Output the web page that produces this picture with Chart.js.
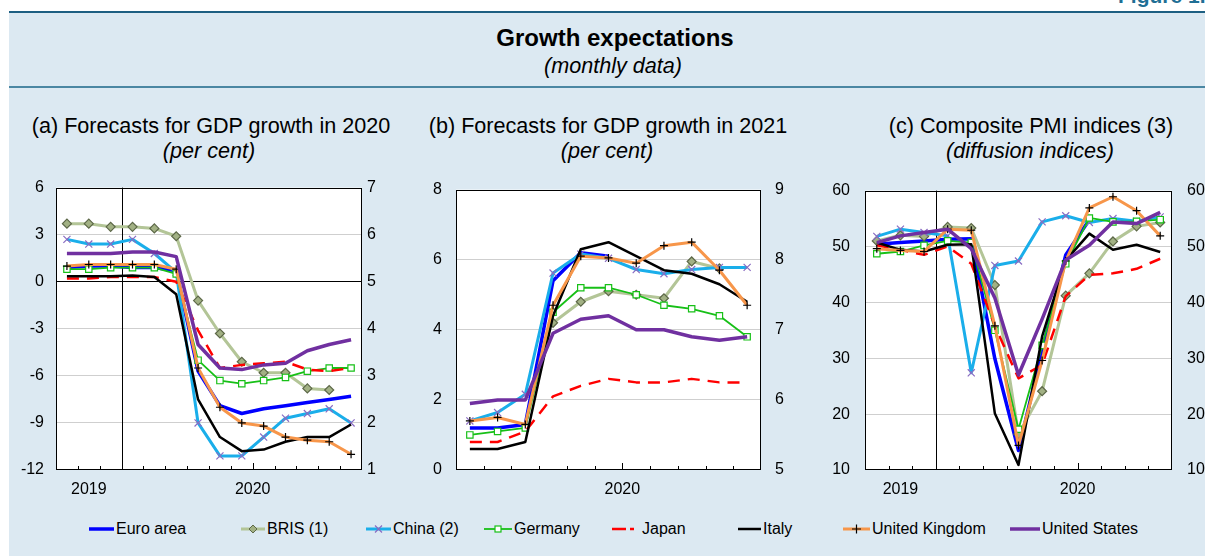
<!DOCTYPE html>
<html>
<head>
<meta charset="utf-8">
<script src="https://cdn.jsdelivr.net/npm/chart.js@4.4.1/dist/chart.umd.min.js"></script>
<style>
  body { margin: 0; width: 1205px; height: 556px; position: relative; overflow: hidden; background: #fff;
         font-family: "Liberation Sans", Arial, Helvetica, sans-serif; color: #000; }
  #bg { position: absolute; left: 9px; top: 13px; right: 0; bottom: 0; background: #dce9f2; }
  #topline { position: absolute; left: 9px; right: 0; top: 11px; height: 2px; background: #1d5f82; }
  #sep { position: absolute; left: 9px; right: 0; top: 86px; height: 2px; background: #4b87a3; }
  .t { position: absolute; white-space: nowrap; transform: translateX(-50%); text-align: center; }
  #fig { position: absolute; left: 1118px; top: -15px; font-size: 21px; line-height: 22px; font-weight: bold; color: #1f6f95; white-space: nowrap; }
  canvas { position: absolute; top: 166px; }
  .leg { position: absolute; top: 520px; font-size: 16px; line-height: 18px; white-space: nowrap; }
  .leg svg { position: absolute; top: 3px; }
</style>
</head>
<body>
<div id="bg"></div>
<div id="topline"></div>
<div id="sep"></div>
<div id="fig">Figure 1.</div>
<div class="t" style="left:615px;top:24px;font-size:24px;line-height:28px;font-weight:bold">Growth expectations</div>
<div class="t" style="left:613px;top:54px;font-size:21.6px;line-height:24px;font-style:italic">(monthly data)</div>
<div class="t" style="left:211px;top:114px;font-size:21.6px;line-height:24px">(a) Forecasts for GDP growth in 2020</div>
<div class="t" style="left:209px;top:139px;font-size:21.6px;line-height:24px;font-style:italic">(per cent)</div>
<div class="t" style="left:608px;top:114px;font-size:21.6px;line-height:24px">(b) Forecasts for GDP growth in 2021</div>
<div class="t" style="left:607px;top:139px;font-size:21.6px;line-height:24px;font-style:italic">(per cent)</div>
<div class="t" style="left:1031px;top:114px;font-size:21.6px;line-height:24px">(c) Composite PMI indices (3)</div>
<div class="t" style="left:1030px;top:139px;font-size:21.6px;line-height:24px;font-style:italic">(diffusion indices)</div>

<canvas id="chartA" width="395" height="334" style="left:10px"></canvas>
<canvas id="chartB" width="395" height="334" style="left:405px"></canvas>
<canvas id="chartC" width="405" height="334" style="left:800px"></canvas>
<div id="legend"></div>

<script>
// ---- data ----
var seriesNames = ["Euro area", "BRIS (1)", "China (2)", "Germany", "Japan", "Italy", "United Kingdom", "United States"];

// (a) forecasts for GDP growth in 2020, Oct 2019 - Nov 2020 (China on right axis)
var monthsA = ["2019-10", "2019-11", "2019-12", "2020-01", "2020-02", "2020-03", "2020-04",
               "2020-05", "2020-06", "2020-07", "2020-08", "2020-09", "2020-10", "2020-11"];
var euroA    = [0.9, 1.0, 1.0, 0.9, 0.9, 0.7, -5.7, -7.9, -8.4, -8.1, -7.9, -7.7, -7.5, -7.3];
var brisA    = [3.7, 3.7, 3.5, 3.5, 3.4, 2.9, -1.2, -3.3, -5.1, -5.8, -5.8, -6.8, -6.9, null];
var chinaA   = [5.9, 5.8, 5.8, 5.9, 5.6, 5.2, 2.0, 1.3, 1.3, 1.7, 2.1, 2.2, 2.3, 2.0];
var germanyA = [0.8, 0.8, 0.9, 0.9, 0.9, 0.5, -5.0, -6.3, -6.5, -6.3, -6.1, -5.7, -5.5, -5.5];
var japanA   = [0.2, 0.2, 0.3, 0.3, 0.3, 0.0, -3.1, -5.5, -5.3, -5.2, -5.1, -5.6, -5.7, -5.5];
var italyA   = [0.35, 0.35, 0.35, 0.4, 0.3, -0.8, -7.5, -9.9, -10.8, -10.7, -10.2, -9.9, -9.9, -9.1];
var ukA      = [1.0, 1.1, 1.1, 1.1, 1.1, 0.8, -5.5, -8.0, -9.0, -9.2, -9.9, -10.1, -10.2, -11.0];
var usA      = [1.8, 1.8, 1.8, 1.9, 1.9, 1.6, -4.0, -5.5, -5.6, -5.3, -5.2, -4.4, -4.0, -3.7];

// (b) forecasts for GDP growth in 2021, Jan - Nov 2020 (China on right axis)
var monthsB = ["2020-01", "2020-02", "2020-03", "2020-04", "2020-05", "2020-06",
               "2020-07", "2020-08", "2020-09", "2020-10", "2020-11"];
var euroB    = [1.2, 1.2, 1.3, 5.4, 6.2, 6.1, null, null, null, null, null];
var brisB    = [null, null, null, 4.2, 4.8, 5.1, 5.0, 4.9, 5.95, 5.75, null];
var chinaB   = [5.7, 5.82, 6.08, 7.81, 8.08, 8.02, 7.86, 7.8, 7.86, 7.89, 7.89];
var germanyB = [1.0, 1.1, 1.2, 4.5, 5.2, 5.2, 5.0, 4.7, 4.6, 4.4, 3.8];
var japanB   = [0.8, 0.8, 1.1, 2.1, 2.4, 2.6, 2.5, 2.5, 2.6, 2.5, 2.5];
var italyB   = [0.6, 0.6, 0.8, 4.4, 6.3, 6.5, 6.1, 5.7, 5.6, 5.3, 4.8];
var ukB      = [1.4, 1.5, 1.3, 4.7, 6.1, 6.05, 5.9, 6.4, 6.5, 5.7, 4.7];
var usB      = [1.9, 2.0, 2.0, 3.9, 4.3, 4.4, 4.0, 4.0, 3.8, 3.7, 3.8];

// (c) composite PMI, Oct 2019 - Oct 2020
var monthsC = ["2019-10", "2019-11", "2019-12", "2020-01", "2020-02", "2020-03", "2020-04",
               "2020-05", "2020-06", "2020-07", "2020-08", "2020-09", "2020-10"];
var euroC    = [50.4, 50.7, 51.0, 51.3, 51.4, 29.9, 13.5, 31.4, 48.5, 54.8, null, null, null];
var brisC    = [51.0, 52.0, 51.8, 53.5, 53.3, 43.1, 16.4, 24.1, 41.2, 45.2, 50.9, 53.6, 54.3];
var chinaC   = [51.8, 53.1, 52.5, 51.9, 27.4, 46.6, 47.4, 54.4, 55.5, 54.3, 55.0, 54.5, 55.3];
var germanyC = [48.7, 49.1, 50.2, 51.0, 50.7, 35.0, 17.3, 32.3, 46.9, 55.1, 54.4, 54.5, 54.8];
var japanC   = [50.2, 49.4, 48.5, 50.0, 46.9, 35.8, 26.4, 28.8, 41.1, 44.9, 45.2, 46.0, 47.8];
var italyC   = [50.7, 49.4, 49.1, 50.3, 50.4, 20.1, 10.9, 33.9, 47.5, 52.3, 49.4, 50.3, 49.0];
var ukC      = [49.6, 49.3, 49.1, 53.1, 52.9, 35.8, 14.4, 29.6, 47.4, 56.9, 58.9, 56.4, 51.9];
var usC      = [50.7, 51.9, 52.5, 53.1, 49.6, 40.8, 27.0, 37.0, 47.6, 50.2, 54.4, 54.1, 56.1];

// ---- styles ----
var styles = {
  "Euro area":      { color: "#0000ff", width: 3.5 },
  "BRIS (1)":       { color: "#b3c597", width: 3, point: "rectRot", radius: 4.5, fill: "#a2b184", border: "#5d6848" },
  "China (2)":      { color: "#1aaeea", width: 3, point: "crossRot", radius: 5, fill: "#8a6cc2", border: "#8a6cc2" },
  "Germany":        { color: "#17c017", width: 1.8, point: "rect", radius: 4.5, fill: "#ffffff", border: "#17c017" },
  "Japan":          { color: "#ff0000", width: 2.5, dash: [12, 8] },
  "Italy":          { color: "#000000", width: 2.5 },
  "United Kingdom": { color: "#f7964a", width: 3, point: "cross", radius: 4, fill: "#000000", border: "#000000" },
  "United States":  { color: "#7030a0", width: 3.5 }
};

Chart.defaults.font.family = '"Liberation Sans", Arial, Helvetica, sans-serif';
Chart.defaults.font.size = 16;
Chart.defaults.color = "#000";

function makeDatasets(values, rightIdx) {
  return values.map(function (vals, i) {
    var s = styles[seriesNames[i]];
    return {
      label: seriesNames[i],
      data: vals,
      yAxisID: rightIdx.indexOf(i) >= 0 ? "y2" : "y",
      borderColor: s.color,
      borderWidth: s.width,
      borderDash: s.dash || [],
      borderJoinStyle: "round",
      tension: 0,
      pointStyle: s.point || "circle",
      pointRadius: s.point ? s.radius : 0,
      pointBackgroundColor: s.fill,
      pointBorderColor: s.border,
      pointBorderWidth: 1.2,
      order: values.length - i
    };
  });
}

var framePlugin = {
  id: "frame",
  beforeDraw: function (chart) {
    var a = chart.chartArea, ctx = chart.ctx;
    ctx.save();
    ctx.fillStyle = "#fff";
    ctx.fillRect(a.left, a.top, a.right - a.left, a.bottom - a.top);
    ctx.restore();
  },
  beforeDatasetsDraw: function (chart) {
    var a = chart.chartArea, ctx = chart.ctx, x = chart.scales.x;
    var months = chart.data.labels;
    var jan = months.indexOf("2020-01");
    if (jan > 0) {
      var px = Math.round(x.getPixelForValue(jan - 0.5)) + 0.5;
      ctx.save();
      ctx.strokeStyle = "#000"; ctx.lineWidth = 1;
      ctx.beginPath(); ctx.moveTo(px, a.top); ctx.lineTo(px, a.bottom); ctx.stroke();
      ctx.restore();
    }
  },
  afterDraw: function (chart) {
    var a = chart.chartArea, ctx = chart.ctx, x = chart.scales.x;
    var months = chart.data.labels, n = months.length;
    var years = [];
    months.forEach(function (m) { var y = m.slice(0, 4); if (years.indexOf(y) < 0) years.push(y); });
    var longTicks = [];
    ctx.save();
    ctx.fillStyle = "#000";
    ctx.font = '16px "Liberation Sans", Arial, sans-serif';
    ctx.textAlign = "center"; ctx.textBaseline = "middle";
    years.forEach(function (y) {
      var idx = [];
      months.forEach(function (m, i) { if (m.slice(0, 4) === y) idx.push(i); });
      var jan = months.indexOf(y + "-01");
      var start = jan >= 0 ? jan : idx[0];
      var end = jan >= 0 ? jan + 12 : idx[idx.length - 1] + 1;
      var c = (start + end) / 2;
      if (Number.isInteger(c)) longTicks.push(c);
      ctx.fillText(y, x.getPixelForValue(c - 0.5), a.bottom + 20);
    });
    ctx.strokeStyle = "#000"; ctx.lineWidth = 1;
    ctx.beginPath();
    for (var i = 1; i < n; i++) {
      var px = Math.round(x.getPixelForValue(i - 0.5)) + 0.5;
      var len = longTicks.indexOf(i) >= 0 ? 7 : 4;
      ctx.moveTo(px, a.bottom); ctx.lineTo(px, a.bottom - len);
    }
    ctx.stroke();
    ctx.strokeRect(Math.round(a.left) + 0.5, Math.round(a.top) + 0.5,
                   Math.round(a.right - a.left) - 1, Math.round(a.bottom - a.top) - 1);
    ctx.restore();
  }
};

function makeChart(id, months, values, rightIdx, yl, yr, widths, pads, zeroLine) {
  return new Chart(document.getElementById(id), {
    type: "line",
    data: { labels: months, datasets: makeDatasets(values, rightIdx) },
    plugins: [framePlugin],
    options: {
      responsive: false,
      animation: false,
      devicePixelRatio: 1,
      layout: { padding: { top: 0, left: 0, right: 0, bottom: 0 } },
      plugins: { legend: { display: false }, tooltip: { enabled: false } },
      scales: {
        x: {
          type: "category", offset: true,
          ticks: { display: false },
          grid: { display: false },
          border: { display: false },
          afterFit: function (s) { s.height = 30; }
        },
        y: {
          position: "left", min: yl[0], max: yl[1],
          ticks: { stepSize: yl[2], padding: pads[0] },
          grid: {
            drawTicks: false,
            color: function (c) {
              if (c.tick.value === yl[0] || c.tick.value === yl[1]) return "rgba(0,0,0,0)";
              if (zeroLine && c.tick.value === 0) return "#000";
              return "#cfcfcf";
            }
          },
          border: { display: false },
          afterFit: function (s) { s.width = widths[0]; }
        },
        y2: {
          position: "right", min: yr[0], max: yr[1],
          ticks: { stepSize: yr[2], padding: pads[1] },
          grid: { display: false, drawTicks: false },
          border: { display: false },
          afterFit: function (s) { s.width = widths[1]; }
        }
      }
    }
  });
}

makeChart("chartA", monthsA, [euroA, brisA, chinaA, germanyA, japanA, italyA, ukA, usA], [2],
          [-12, 6, 3], [1, 7, 1], [46, 43], [12, 5], true);
makeChart("chartB", monthsB, [euroB, brisB, chinaB, germanyB, japanB, italyB, ukB, usB], [2],
          [0, 8, 2], [5, 9, 1], [51, 39], [14, 14], false);
makeChart("chartC", monthsC, [euroC, brisC, chinaC, germanyC, japanC, italyC, ukC, usC], [],
          [10, 60, 10], [10, 60, 10], [65, 33], [15, 15], false);

// ---- legend (HTML, built from the series styles) ----
var legendSample = [89, 241, 366, 484, 612, 738, 843, 1010];
var legendText = [116, 267, 393, 514, 642, 763, 872, 1042];
var leg = document.getElementById("legend");
seriesNames.forEach(function (name, i) {
  var s = styles[name];
  var w = legendText[i] - legendSample[i] - 2;
  var svg = '<svg width="' + w + '" height="12" style="left:0">';
  if (s.dash) {
    svg += '<line x1="0" y1="6" x2="' + w + '" y2="6" stroke="' + s.color + '" stroke-width="' + s.width +
           '" stroke-dasharray="14,4,4,20"/>';
  } else {
    svg += '<line x1="0" y1="6" x2="' + w + '" y2="6" stroke="' + s.color + '" stroke-width="' + s.width + '"/>';
  }
  var c = w / 2;
  if (s.point === "rectRot") {
    svg += '<polygon points="' + (c - 4) + ',6 ' + c + ',2 ' + (c + 4) + ',6 ' + c + ',10" fill="' + s.fill + '" stroke="' + s.border + '" stroke-width="1"/>';
  } else if (s.point === "crossRot") {
    svg += '<path d="M' + (c - 3.5) + ' 2.5 L' + (c + 3.5) + ' 9.5 M' + (c + 3.5) + ' 2.5 L' + (c - 3.5) + ' 9.5" stroke="' + s.border + '" stroke-width="1.2"/>';
  } else if (s.point === "rect") {
    svg += '<rect x="' + (c - 3) + '" y="3" width="6" height="6" fill="' + s.fill + '" stroke="' + s.border + '" stroke-width="1.2"/>';
  } else if (s.point === "cross") {
    svg += '<path d="M' + c + ' 1.5 L' + c + ' 10.5 M' + (c - 4.5) + ' 6 L' + (c + 4.5) + ' 6" stroke="' + s.border + '" stroke-width="1.2"/>';
  }
  svg += '</svg>';
  var div = document.createElement("div");
  div.className = "leg";
  div.style.left = legendSample[i] + "px";
  div.innerHTML = svg + '<span style="position:absolute;left:' + (legendText[i] - legendSample[i]) + 'px">' + name + '</span>';
  leg.appendChild(div);
});
</script>
</body>
</html>
